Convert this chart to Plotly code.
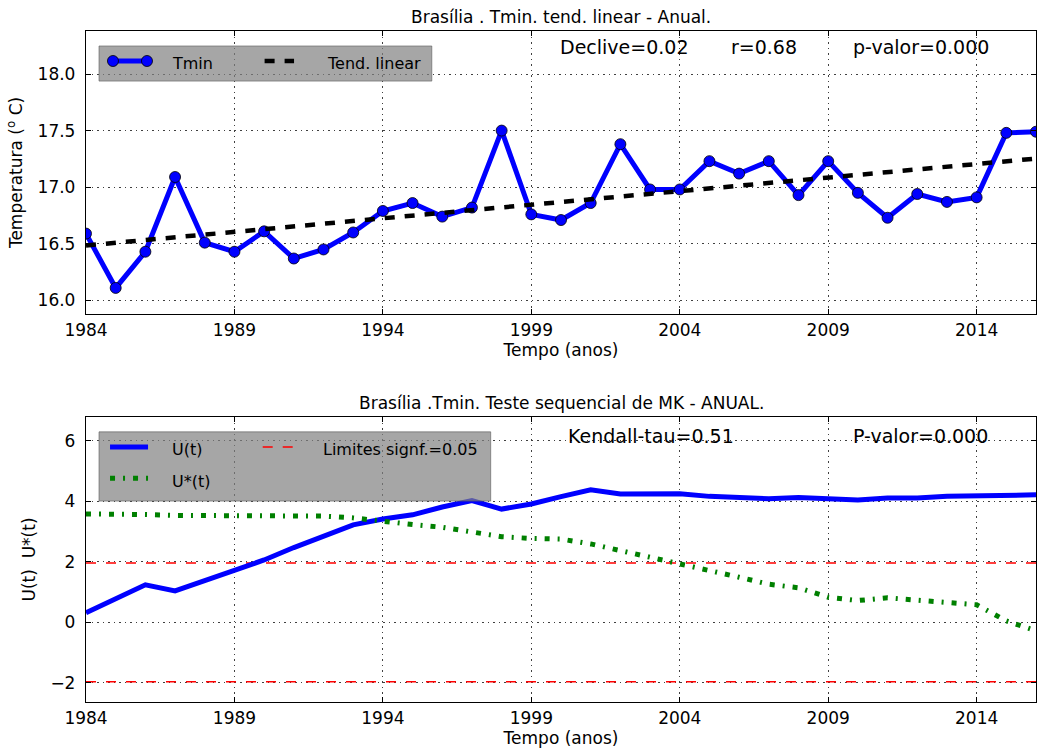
import numpy as np
import plotly.graph_objects as go

# Annual minimum temperature, Brasília
anos = list(range(1984, 2017))
tmin = [16.59, 16.11, 16.43, 17.09, 16.51, 16.43, 16.61, 16.37, 16.45, 16.60,
        16.79, 16.86, 16.74, 16.82, 17.50, 16.76, 16.71, 16.86, 17.38, 16.98,
        16.98, 17.23, 17.12, 17.23, 16.93, 17.23, 16.95, 16.73, 16.94, 16.87,
        16.91, 17.48, 17.49]

# Sequential Mann-Kendall statistics
u_prog = [0.32, 0.79, 1.24, 1.04, 1.38, 1.76, 2.06, 2.47, 2.86, 3.22,
          3.41, 3.55, 3.81, 4.02, 3.74, 3.91, 4.15, 4.38, 4.24, 4.24,
          4.25, 4.16, 4.13, 4.08, 4.12, 4.07, 4.04, 4.11, 4.11, 4.16,
          4.19, 4.21, 4.21]
u_retro = [3.58, 3.58, 3.56, 3.53, 3.52, 3.50, 3.49, 3.52, 3.51, 3.45,
           3.33, 3.23, 3.14, 3.00, 2.83, 2.77, 2.75, 2.59, 2.37, 2.17,
           1.97, 1.71, 1.49, 1.26, 1.14, 0.83, 0.72, 0.81, 0.74, 0.68,
           0.58, 0.05, -0.28]
z_crit = 1.96  # two-sided limit for alpha = 0.05

temp_ticks = [16.0, 16.5, 17.0, 17.5, 18.0]
u_ticks = [-2, 0, 2, 4, 6]
ano_ticks = anos[::5]

# Linear trend of Tmin
coef = np.polyfit(anos, tmin, 1)
tend = np.polyval(coef, anos)

FONT = "DejaVu Sans"
BLUE, GREEN, RED = "#0000ff", "#008000", "#ff0000"
DASH_TEND = "10px,10px"
DASH_LIM = "10px,10px"
DASH_RETRO = "5px,8px,2px,8px"

fig = go.Figure()

fig.add_trace(go.Scatter(x=anos, y=tmin, mode="lines+markers", xaxis="x", yaxis="y",
                         line=dict(color=BLUE, width=5),
                         marker=dict(size=11, color=BLUE, line=dict(color="black", width=0.8))))
fig.add_trace(go.Scatter(x=anos, y=tend, mode="lines", xaxis="x", yaxis="y",
                         line=dict(color="black", width=4.5, dash=DASH_TEND)))

for lim in (z_crit, -z_crit):
    fig.add_trace(go.Scatter(x=[anos[0], anos[-1]], y=[lim, lim], mode="lines",
                             xaxis="x2", yaxis="y2",
                             line=dict(color=RED, width=1.5, dash=DASH_LIM)))
fig.add_trace(go.Scatter(x=anos, y=u_prog, mode="lines", xaxis="x2", yaxis="y2",
                         line=dict(color=BLUE, width=5)))
fig.add_trace(go.Scatter(x=anos, y=u_retro, mode="lines", xaxis="x2", yaxis="y2",
                         line=dict(color=GREEN, width=5, dash=DASH_RETRO)))

axis_common = dict(showline=True, linecolor="black", linewidth=1.3, mirror="allticks",
                   ticks="inside", ticklen=5, tickcolor="black",
                   showgrid=True, gridcolor="rgba(0,0,0,0.75)", griddash="1.5px,4px",
                   gridwidth=1, zeroline=False,
                   tickfont=dict(family=FONT, size=17, color="black"))

fig.update_layout(
    width=1037, height=748,
    margin=dict(l=86, r=1, t=31, b=46),
    paper_bgcolor="white", plot_bgcolor="white",
    showlegend=False,
    font=dict(family=FONT, color="black"),
    xaxis=dict(axis_common, domain=[0, 1], anchor="y", range=[1984, 2016],
               tickmode="array", tickvals=ano_ticks,
               title=dict(text="Tempo (anos)", font=dict(size=17), standoff=2)),
    yaxis=dict(axis_common, domain=[0.5783, 1], anchor="x", range=[15.88, 18.38],
               tickmode="array", tickvals=temp_ticks, tickformat=".1f",
               ticklabelstandoff=6,
               title=dict(text="Temperatura (<sup>o</sup> C)", font=dict(size=17), standoff=10)),
    xaxis2=dict(axis_common, domain=[0, 1], anchor="y2", range=[1984, 2016],
                tickmode="array", tickvals=ano_ticks,
                title=dict(text="Tempo (anos)", font=dict(size=17), standoff=2)),
    yaxis2=dict(axis_common, domain=[0, 0.4247], anchor="x2", range=[-2.63, 6.78],
                tickmode="array", tickvals=u_ticks,
                ticklabelstandoff=6,
                title=dict(text="U(t)  U*(t)", font=dict(size=17), standoff=10)),
)


def dom(ax):
    return ("x domain", "y domain") if ax == 1 else ("x2 domain", "y2 domain")


shapes, annots = [], []


def legend_box(ax, x0, x1, y0, y1):
    xr, yr = dom(ax)
    shapes.append(dict(type="rect", xref=xr, yref=yr, x0=x0, x1=x1, y0=y0, y1=y1,
                       fillcolor="rgba(128,128,128,0.7)",
                       line=dict(color="rgba(90,90,90,0.6)", width=1), layer="above"))


def legend_line(ax, x0, x1, y, color, width, dash="solid"):
    xr, yr = dom(ax)
    shapes.append(dict(type="line", xref=xr, yref=yr, x0=x0, x1=x1, y0=y, y1=y,
                       line=dict(color=color, width=width, dash=dash), layer="above"))


def legend_dot(ax, x, y):
    xr, yr = dom(ax)
    shapes.append(dict(type="circle", xref=xr, yref=yr, xsizemode="pixel", ysizemode="pixel",
                       xanchor=x, yanchor=y, x0=-5.5, x1=5.5, y0=-5.5, y1=5.5,
                       fillcolor=BLUE, line=dict(color="black", width=0.8), layer="above"))


def text(ax, x, y, s, size, anchor="left"):
    xr, yr = dom(ax)
    annots.append(dict(xref=xr, yref=yr, x=x, y=y, text=s, showarrow=False,
                       xanchor=anchor, yanchor="middle",
                       font=dict(family=FONT, size=size, color="black")))


# Top panel legend
legend_box(1, 0.0137, 0.364, 0.823, 0.947)
legend_line(1, 0.0284, 0.0642, 0.894, BLUE, 5)
legend_dot(1, 0.0284, 0.894)
legend_dot(1, 0.0642, 0.894)
text(1, 0.0884, 0.886, "Tmin", 16)
legend_line(1, 0.188, 0.219, 0.894, "black", 4.5, DASH_TEND)
text(1, 0.2516, 0.886, "Tend. linear", 16)

# Top panel statistics
text(1, 0.497, 0.9445, "Declive=0.02", 19)
text(1, 0.677, 0.9445, "r=0.68", 19)
text(1, 0.805, 0.9445, "p-valor=0.000", 19)

# Bottom panel legend
legend_box(2, 0.0137, 0.426, 0.705, 0.948)
legend_line(2, 0.0253, 0.0653, 0.895, BLUE, 5)
text(2, 0.0884, 0.885, "U(t)", 16)
legend_line(2, 0.0253, 0.0653, 0.785, GREEN, 5, DASH_RETRO)
text(2, 0.0884, 0.775, "U*(t)", 16)
legend_line(2, 0.186, 0.218, 0.895, RED, 1.5, DASH_LIM)
text(2, 0.247, 0.885, "Limites signf.=0.05", 16)

# Bottom panel statistics
text(2, 0.505, 0.933, "Kendall-tau=0.51", 19)
text(2, 0.805, 0.933, "P-valor=0.000", 19)

# Panel titles
annots.append(dict(xref="x domain", yref="y domain", x=0.5, y=1, yshift=2,
                   xanchor="center", yanchor="bottom", showarrow=False,
                   text="Brasília . Tmin. tend. linear - Anual.",
                   font=dict(family=FONT, size=17, color="black")))
annots.append(dict(xref="x2 domain", yref="y2 domain", x=0.5, y=1, yshift=2,
                   xanchor="center", yanchor="bottom", showarrow=False,
                   text="Brasília .Tmin. Teste sequencial de MK - ANUAL.",
                   font=dict(family=FONT, size=17, color="black")))

fig.update_layout(shapes=shapes, annotations=annots)
fig.write_html("out.html")
